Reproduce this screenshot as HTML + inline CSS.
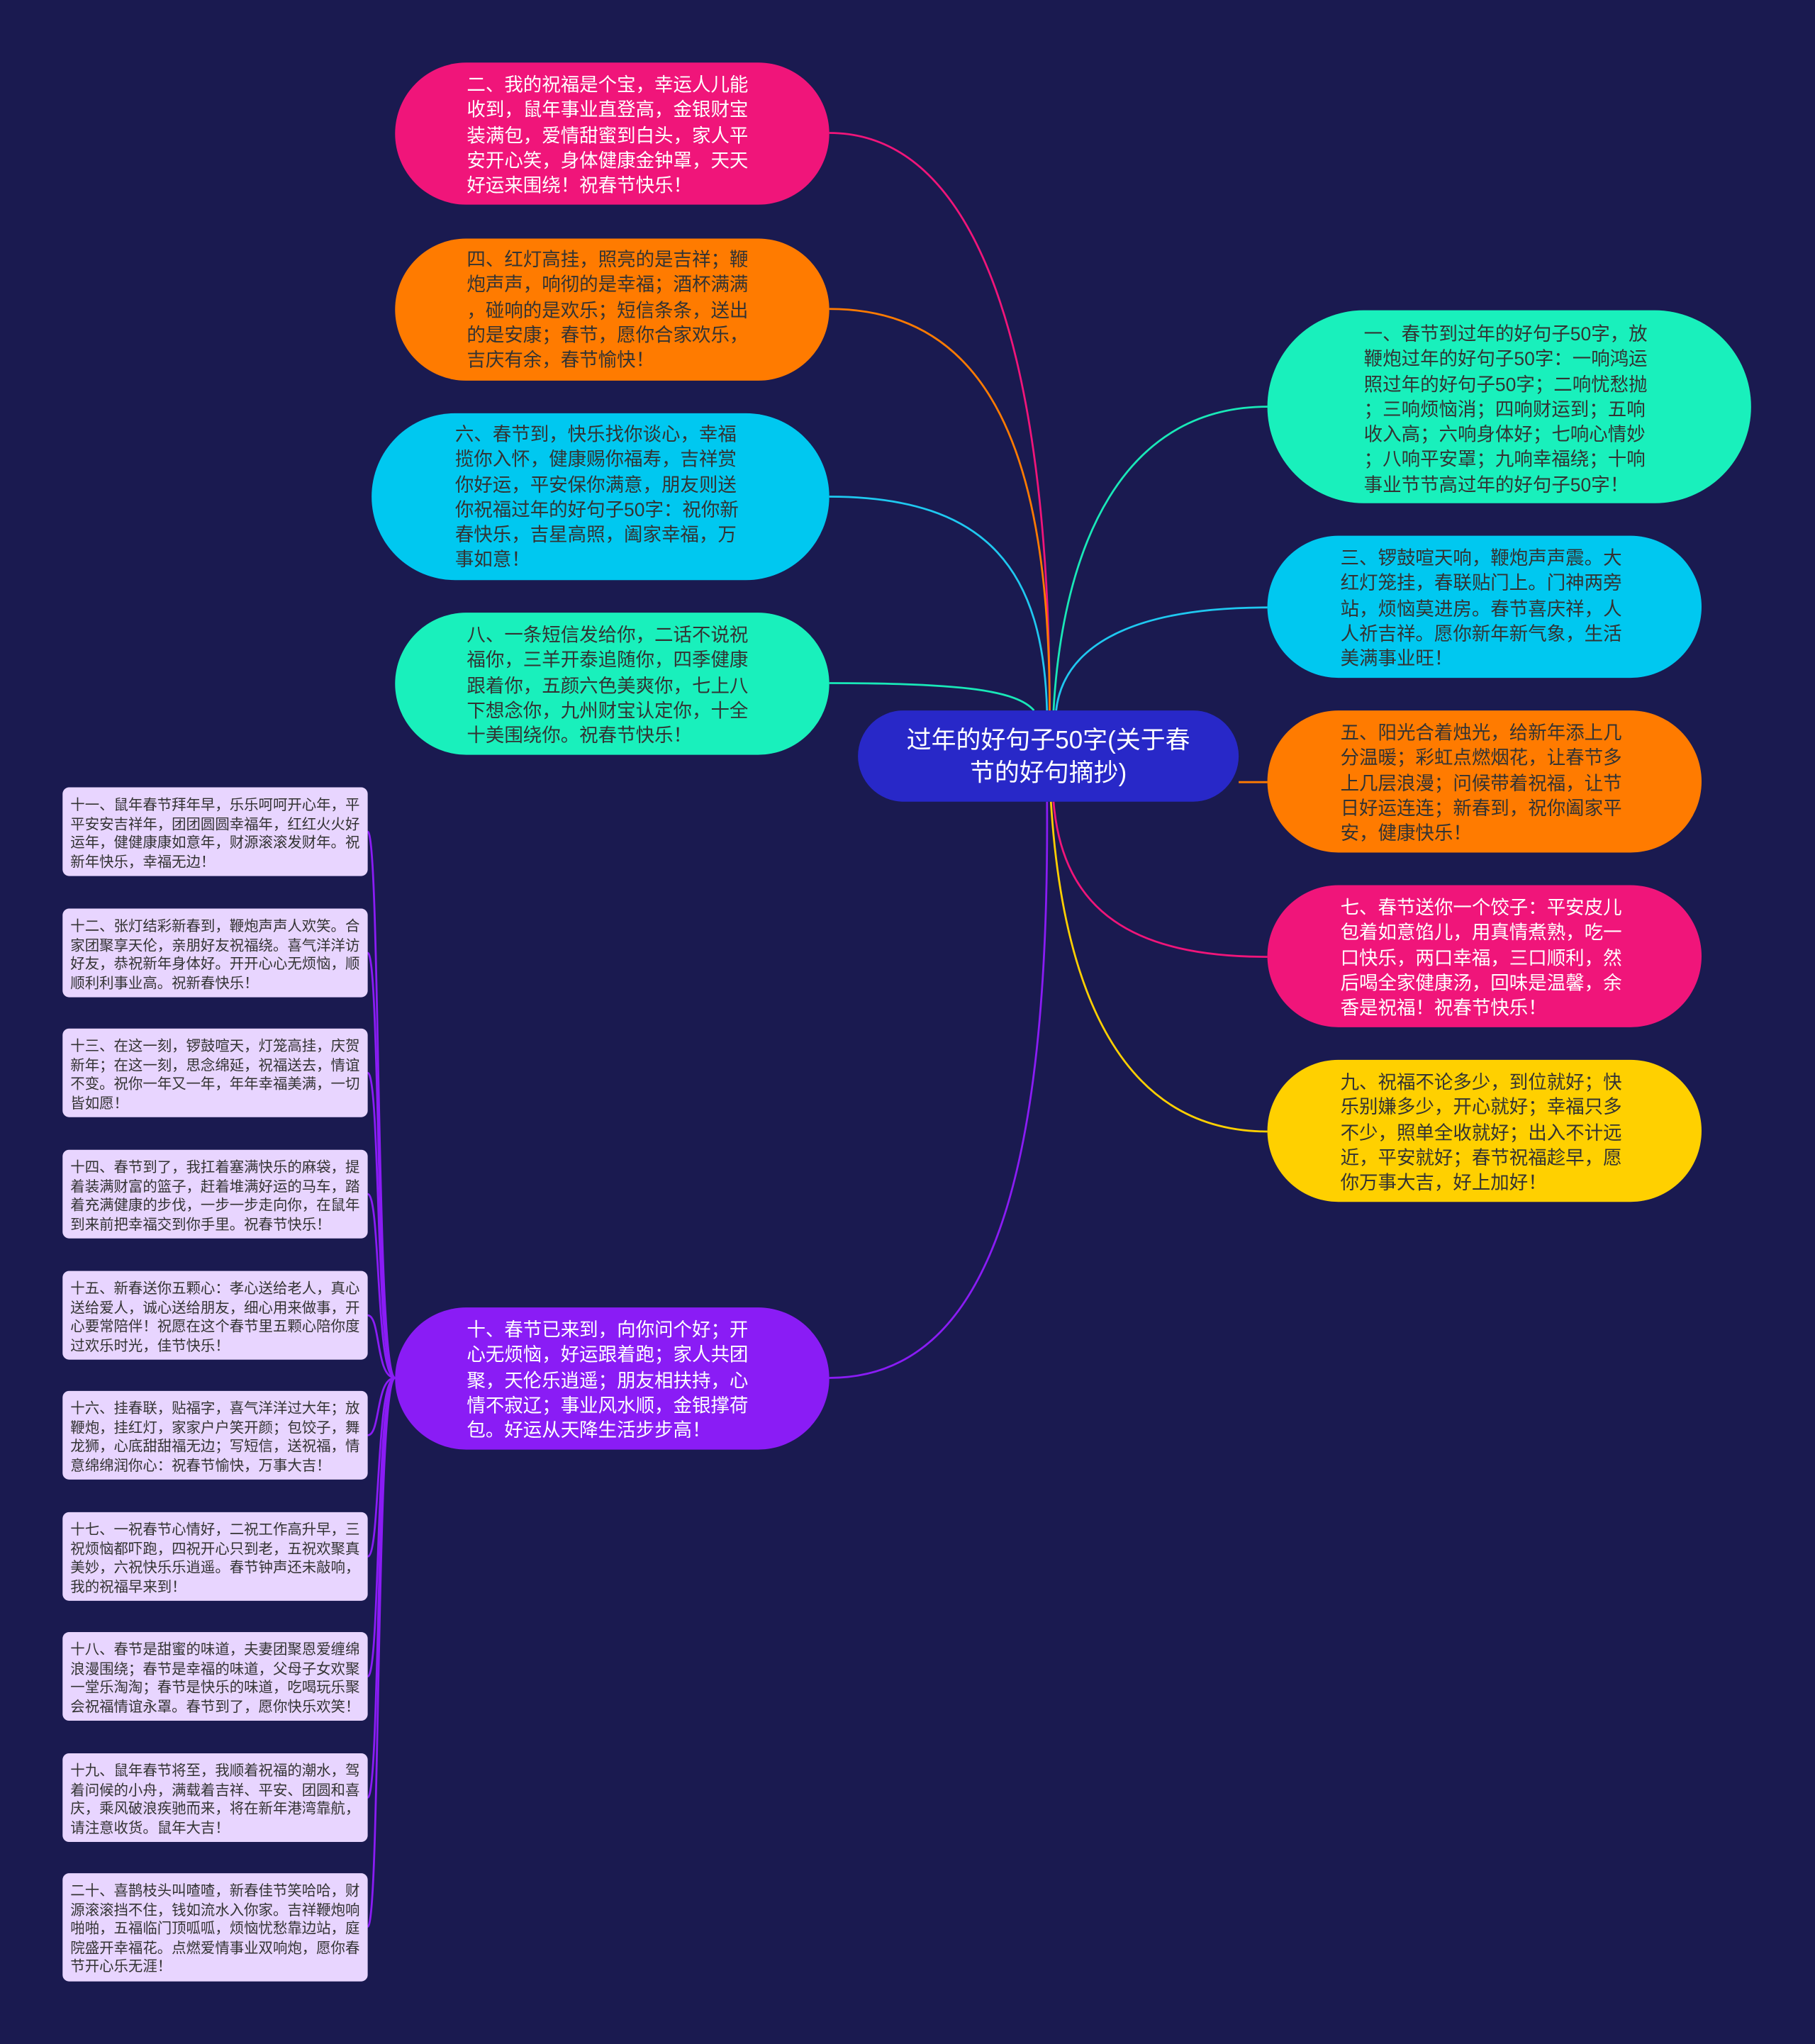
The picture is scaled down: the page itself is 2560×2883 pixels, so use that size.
<!DOCTYPE html>
<html><head><meta charset="utf-8"><style>
html,body{margin:0;padding:0;background:#1a1a50;}
#wrap{position:relative;width:2560px;height:2883px;overflow:hidden;background:#1a1a50;}
#s{position:absolute;left:0;top:0;width:1392px;height:1568px;transform-origin:0 0;transform:scale(1.83908,1.83865);font-family:"Liberation Sans","Noto Sans CJK SC",sans-serif;}
.n{position:absolute;border-radius:56px;}
.t{position:absolute;font-size:14.4px;line-height:19.3px;white-space:nowrap;color:#333;margin-top:3px;}
.w{color:#fff;}
.sm{position:absolute;left:48px;width:234px;background:#e8d5ff;border-radius:5px;}
.st{position:absolute;left:54px;font-size:11.1px;line-height:14.5px;white-space:nowrap;color:#333;margin-top:2px;}
svg{position:absolute;left:0;top:0;}
</style></head><body><div id="wrap"><div id="s">
<svg width="1392" height="1568" fill="none" stroke-width="1.5">
<path d="M636,102 C760,102 805,300 805,545" stroke="#f0157a"/>
<path d="M636,237 C760,237 805,350 805,545" stroke="#ff7b00"/>
<path d="M636,381 C760,381 800,440 803,545" stroke="#1fc8f0"/>
<path d="M636,524 C740,524 780,530 793,545" stroke="#19e8b8"/>
<path d="M972,312 C860,312 815,420 808,545" stroke="#19e8b8"/>
<path d="M972,466 C860,466 815,500 810,545" stroke="#1fc8f0"/>
<path d="M972,600 L950,600" stroke="#ff7b00"/>
<path d="M972,734 C870,734 815,700 808,615" stroke="#f0157a"/>
<path d="M972,868 C860,868 815,760 806,615" stroke="#ffd000"/>
<path d="M636,1057 C760,1057 805,900 803,615" stroke="#8a1cf5"/>
<g stroke="#8a1cf5">
<path d="M303,1057 C288,1057 292,638 282,638"/>
<path d="M303,1057 C288,1057 292,731 282,731"/>
<path d="M303,1057 C288,1057 292,823 282,823"/>
<path d="M303,1057 C288,1057 292,916 282,916"/>
<path d="M303,1057 C288,1057 292,1009 282,1009"/>
<path d="M303,1057 C288,1057 292,1101 282,1101"/>
<path d="M303,1057 C288,1057 292,1194 282,1194"/>
<path d="M303,1057 C288,1057 292,1286 282,1286"/>
<path d="M303,1057 C288,1057 292,1379 282,1379"/>
<path d="M303,1057 C288,1057 292,1478 282,1478"/>
</g>
</svg>
<div class="n" style="left:658px;top:545px;width:292px;height:70px;background:#2828c8;border-radius:35px;"></div>
<div style="position:absolute;left:658px;top:556px;width:292px;text-align:center;color:#fff;font-size:19px;line-height:25px;">过年的好句子50字(关于春<br>节的好句摘抄)</div>

<div class="n" style="left:303px;top:48px;width:333px;height:109px;background:#f0157a;"></div>
<div class="t w" style="left:358px;top:54px;">二、我的祝福是个宝，幸运人儿能<br>收到，鼠年事业直登高，金银财宝<br>装满包，爱情甜蜜到白头，家人平<br>安开心笑，身体健康金钟罩，天天<br>好运来围绕！祝春节快乐！</div>

<div class="n" style="left:303px;top:183px;width:333px;height:109px;background:#ff7b00;"></div>
<div class="t" style="left:358px;top:188px;">四、红灯高挂，照亮的是吉祥；鞭<br>炮声声，响彻的是幸福；酒杯满满<br>，碰响的是欢乐；短信条条，送出<br>的是安康；春节，愿你合家欢乐，<br>吉庆有余，春节愉快！</div>

<div class="n" style="left:285px;top:317px;width:351px;height:128px;background:#00c8f0;border-radius:64px;"></div>
<div class="t" style="left:349px;top:322px;">六、春节到，快乐找你谈心，幸福<br>揽你入怀，健康赐你福寿，吉祥赏<br>你好运，平安保你满意，朋友则送<br>你祝福过年的好句子50字：祝你新<br>春快乐，吉星高照，阖家幸福，万<br>事如意！</div>

<div class="n" style="left:303px;top:470px;width:333px;height:109px;background:#19f0bc;"></div>
<div class="t" style="left:358px;top:476px;">八、一条短信发给你，二话不说祝<br>福你，三羊开泰追随你，四季健康<br>跟着你，五颜六色美爽你，七上八<br>下想念你，九州财宝认定你，十全<br>十美围绕你。祝春节快乐！</div>

<div class="n" style="left:303px;top:1003px;width:333px;height:109px;background:#8a1cf5;"></div>
<div class="t w" style="left:358px;top:1009px;">十、春节已来到，向你问个好；开<br>心无烦恼，好运跟着跑；家人共团<br>聚，天伦乐逍遥；朋友相扶持，心<br>情不寂辽；事业风水顺，金银撑荷<br>包。好运从天降生活步步高！</div>

<div class="n" style="left:972px;top:238px;width:371px;height:148px;background:#19f0bc;border-radius:74px;"></div>
<div class="t" style="left:1046px;top:245px;">一、春节到过年的好句子50字，放<br>鞭炮过年的好句子50字：一响鸿运<br>照过年的好句子50字；二响忧愁抛<br>；三响烦恼消；四响财运到；五响<br>收入高；六响身体好；七响心情妙<br>；八响平安罩；九响幸福绕；十响<br>事业节节高过年的好句子50字！</div>

<div class="n" style="left:972px;top:411px;width:333px;height:109px;background:#00c8f0;"></div>
<div class="t" style="left:1028px;top:417px;">三、锣鼓喧天响，鞭炮声声震。大<br>红灯笼挂，春联贴门上。门神两旁<br>站，烦恼莫进房。春节喜庆祥，人<br>人祈吉祥。愿你新年新气象，生活<br>美满事业旺！</div>

<div class="n" style="left:972px;top:545px;width:333px;height:109px;background:#ff7b00;"></div>
<div class="t" style="left:1028px;top:551px;">五、阳光合着烛光，给新年添上几<br>分温暖；彩虹点燃烟花，让春节多<br>上几层浪漫；问候带着祝福，让节<br>日好运连连；新春到，祝你阖家平<br>安，健康快乐！</div>

<div class="n" style="left:972px;top:679px;width:333px;height:109px;background:#f0157a;"></div>
<div class="t w" style="left:1028px;top:685px;">七、春节送你一个饺子：平安皮儿<br>包着如意馅儿，用真情煮熟，吃一<br>口快乐，两口幸福，三口顺利，然<br>后喝全家健康汤，回味是温馨，余<br>香是祝福！祝春节快乐！</div>

<div class="n" style="left:972px;top:813px;width:333px;height:109px;background:#ffd000;"></div>
<div class="t" style="left:1028px;top:819px;">九、祝福不论多少，到位就好；快<br>乐别嫌多少，开心就好；幸福只多<br>不少，照单全收就好；出入不计远<br>近，平安就好；春节祝福趁早，愿<br>你万事大吉，好上加好！</div>

<div class="sm" style="top:604px;height:68px;"></div>
<div class="st" style="top:609px;">十一、鼠年春节拜年早，乐乐呵呵开心年，平<br>平安安吉祥年，团团圆圆幸福年，红红火火好<br>运年，健健康康如意年，财源滚滚发财年。祝<br>新年快乐，幸福无边！</div>
<div class="sm" style="top:697px;height:68px;"></div>
<div class="st" style="top:702px;">十二、张灯结彩新春到，鞭炮声声人欢笑。合<br>家团聚享天伦，亲朋好友祝福绕。喜气洋洋访<br>好友，恭祝新年身体好。开开心心无烦恼，顺<br>顺利利事业高。祝新春快乐！</div>
<div class="sm" style="top:789px;height:68px;"></div>
<div class="st" style="top:794px;">十三、在这一刻，锣鼓喧天，灯笼高挂，庆贺<br>新年；在这一刻，思念绵延，祝福送去，情谊<br>不变。祝你一年又一年，年年幸福美满，一切<br>皆如愿！</div>
<div class="sm" style="top:882px;height:68px;"></div>
<div class="st" style="top:887px;">十四、春节到了，我扛着塞满快乐的麻袋，提<br>着装满财富的篮子，赶着堆满好运的马车，踏<br>着充满健康的步伐，一步一步走向你，在鼠年<br>到来前把幸福交到你手里。祝春节快乐！</div>
<div class="sm" style="top:975px;height:68px;"></div>
<div class="st" style="top:980px;">十五、新春送你五颗心：孝心送给老人，真心<br>送给爱人，诚心送给朋友，细心用来做事，开<br>心要常陪伴！祝愿在这个春节里五颗心陪你度<br>过欢乐时光，佳节快乐！</div>
<div class="sm" style="top:1067px;height:68px;"></div>
<div class="st" style="top:1072px;">十六、挂春联，贴福字，喜气洋洋过大年；放<br>鞭炮，挂红灯，家家户户笑开颜；包饺子，舞<br>龙狮，心底甜甜福无边；写短信，送祝福，情<br>意绵绵润你心：祝春节愉快，万事大吉！</div>
<div class="sm" style="top:1160px;height:68px;"></div>
<div class="st" style="top:1165px;">十七、一祝春节心情好，二祝工作高升早，三<br>祝烦恼都吓跑，四祝开心只到老，五祝欢聚真<br>美妙，六祝快乐乐逍遥。春节钟声还未敲响，<br>我的祝福早来到！</div>
<div class="sm" style="top:1252px;height:68px;"></div>
<div class="st" style="top:1257px;">十八、春节是甜蜜的味道，夫妻团聚恩爱缠绵<br>浪漫围绕；春节是幸福的味道，父母子女欢聚<br>一堂乐淘淘；春节是快乐的味道，吃喝玩乐聚<br>会祝福情谊永罩。春节到了，愿你快乐欢笑！</div>
<div class="sm" style="top:1345px;height:68px;"></div>
<div class="st" style="top:1350px;">十九、鼠年春节将至，我顺着祝福的潮水，驾<br>着问候的小舟，满载着吉祥、平安、团圆和喜<br>庆，乘风破浪疾驰而来，将在新年港湾靠航，<br>请注意收货。鼠年大吉！</div>
<div class="sm" style="top:1437px;height:83px;"></div>
<div class="st" style="top:1442px;">二十、喜鹊枝头叫喳喳，新春佳节笑哈哈，财<br>源滚滚挡不住，钱如流水入你家。吉祥鞭炮响<br>啪啪，五福临门顶呱呱，烦恼忧愁靠边站，庭<br>院盛开幸福花。点燃爱情事业双响炮，愿你春<br>节开心乐无涯！</div>
</div></div></body></html>
